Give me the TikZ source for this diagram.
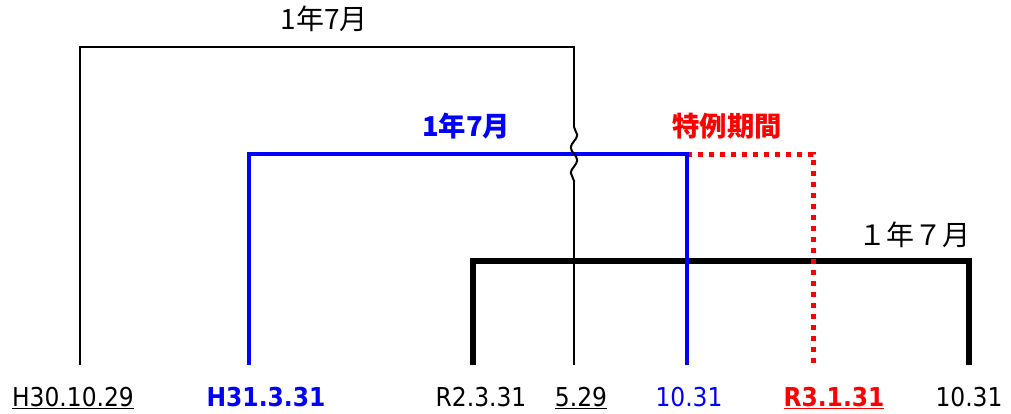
\documentclass[tikz,border=0pt]{standalone}
\usepackage{fontspec}
\setmainfont{DejaVu Sans Condensed}
\newfontfamily\jp{Noto Sans CJK JP}
\usetikzlibrary{decorations.pathmorphing}
\definecolor{myblue}{RGB}{0,0,255}
\definecolor{myred}{RGB}{255,0,0}
\begin{document}
\begin{tikzpicture}[x=0.75pt,y=-0.75pt,
  datelbl/.style={font=\fontsize{19.5}{22}\selectfont, inner sep=0pt, anchor=base},
  jplbl/.style={font=\jp\fontsize{21}{23}\selectfont, inner sep=0pt, anchor=base},
  thinline/.style={line width=1.5pt, black},
  blueline/.style={line width=2.4pt, myblue},
  redline/.style={line width=3.75pt, myred, dash pattern=on 3.75pt off 4.5pt},
  thickline/.style={line width=4.2pt, black},
  wavy/.style={thinline, decorate, decoration={snake, amplitude=2.4pt, segment length=19pt}}]
\useasboundingbox (0,0) rectangle (1011,414);
% coordinates
\coordinate (a0) at (80,365);   \coordinate (a1) at (80,47);
\coordinate (a2) at (574,47);   \coordinate (w1) at (574,127);
\coordinate (w2) at (574,182);  \coordinate (a3) at (574,365);
\coordinate (b0) at (249,365);  \coordinate (b1) at (249,154);
\coordinate (b2) at (687,154);  \coordinate (b3) at (687,365);
\coordinate (r1) at (813,154);  \coordinate (r2) at (813,365);
\coordinate (c0) at (473,365);  \coordinate (c1) at (473,261);
\coordinate (c2) at (969,261);  \coordinate (c3) at (969,365);
% lines
\draw[thickline, line join=miter] (c0) -- (c1) -- (c2) -- (c3);
\draw[redline] (b2) -- (r1) -- (r2);
\draw[blueline, line join=miter] (b0) -- (b1) -- (b2) -- (b3);
\draw[thinline] (a0) -- (a1) -- (a2) -- (w1);
\draw[wavy] (w1) -- (w2);
\draw[thinline] (w2) -- (a3);
% top labels
\node[jplbl] (t1) at (324,29) {1年7月};
\node[jplbl, text=myblue, font=\jp\bfseries\fontsize{20.5}{22}\selectfont] (t2) at (466,136) {1年7月};
\node[jplbl, text=myred, font=\jp\bfseries\fontsize{20.5}{22}\selectfont] (t3) at (727,136) {特例期間};
\node[jplbl] (t4) at (914,245) {１年７月};
% bottom labels
\node[datelbl] (d1) at (73,406) {\underline{H30.10.29}};
\node[datelbl, text=myblue, font=\bfseries\fontsize{19.5}{22}\selectfont] (d2) at (266,406) {H31.3.31};
\node[datelbl] (d3) at (481,406) {R2.3.31};
\node[datelbl] (d4) at (581,406) {\underline{5.29}};
\node[datelbl, text=myblue] (d5) at (689,406) {10.31};
\node[datelbl, text=myred, font=\bfseries\fontsize{19.5}{22}\selectfont] (d6) at (834,406) {\underline{R3.1.31}};
\node[datelbl] (d7) at (969,406) {10.31};
\end{tikzpicture}
\end{document}
